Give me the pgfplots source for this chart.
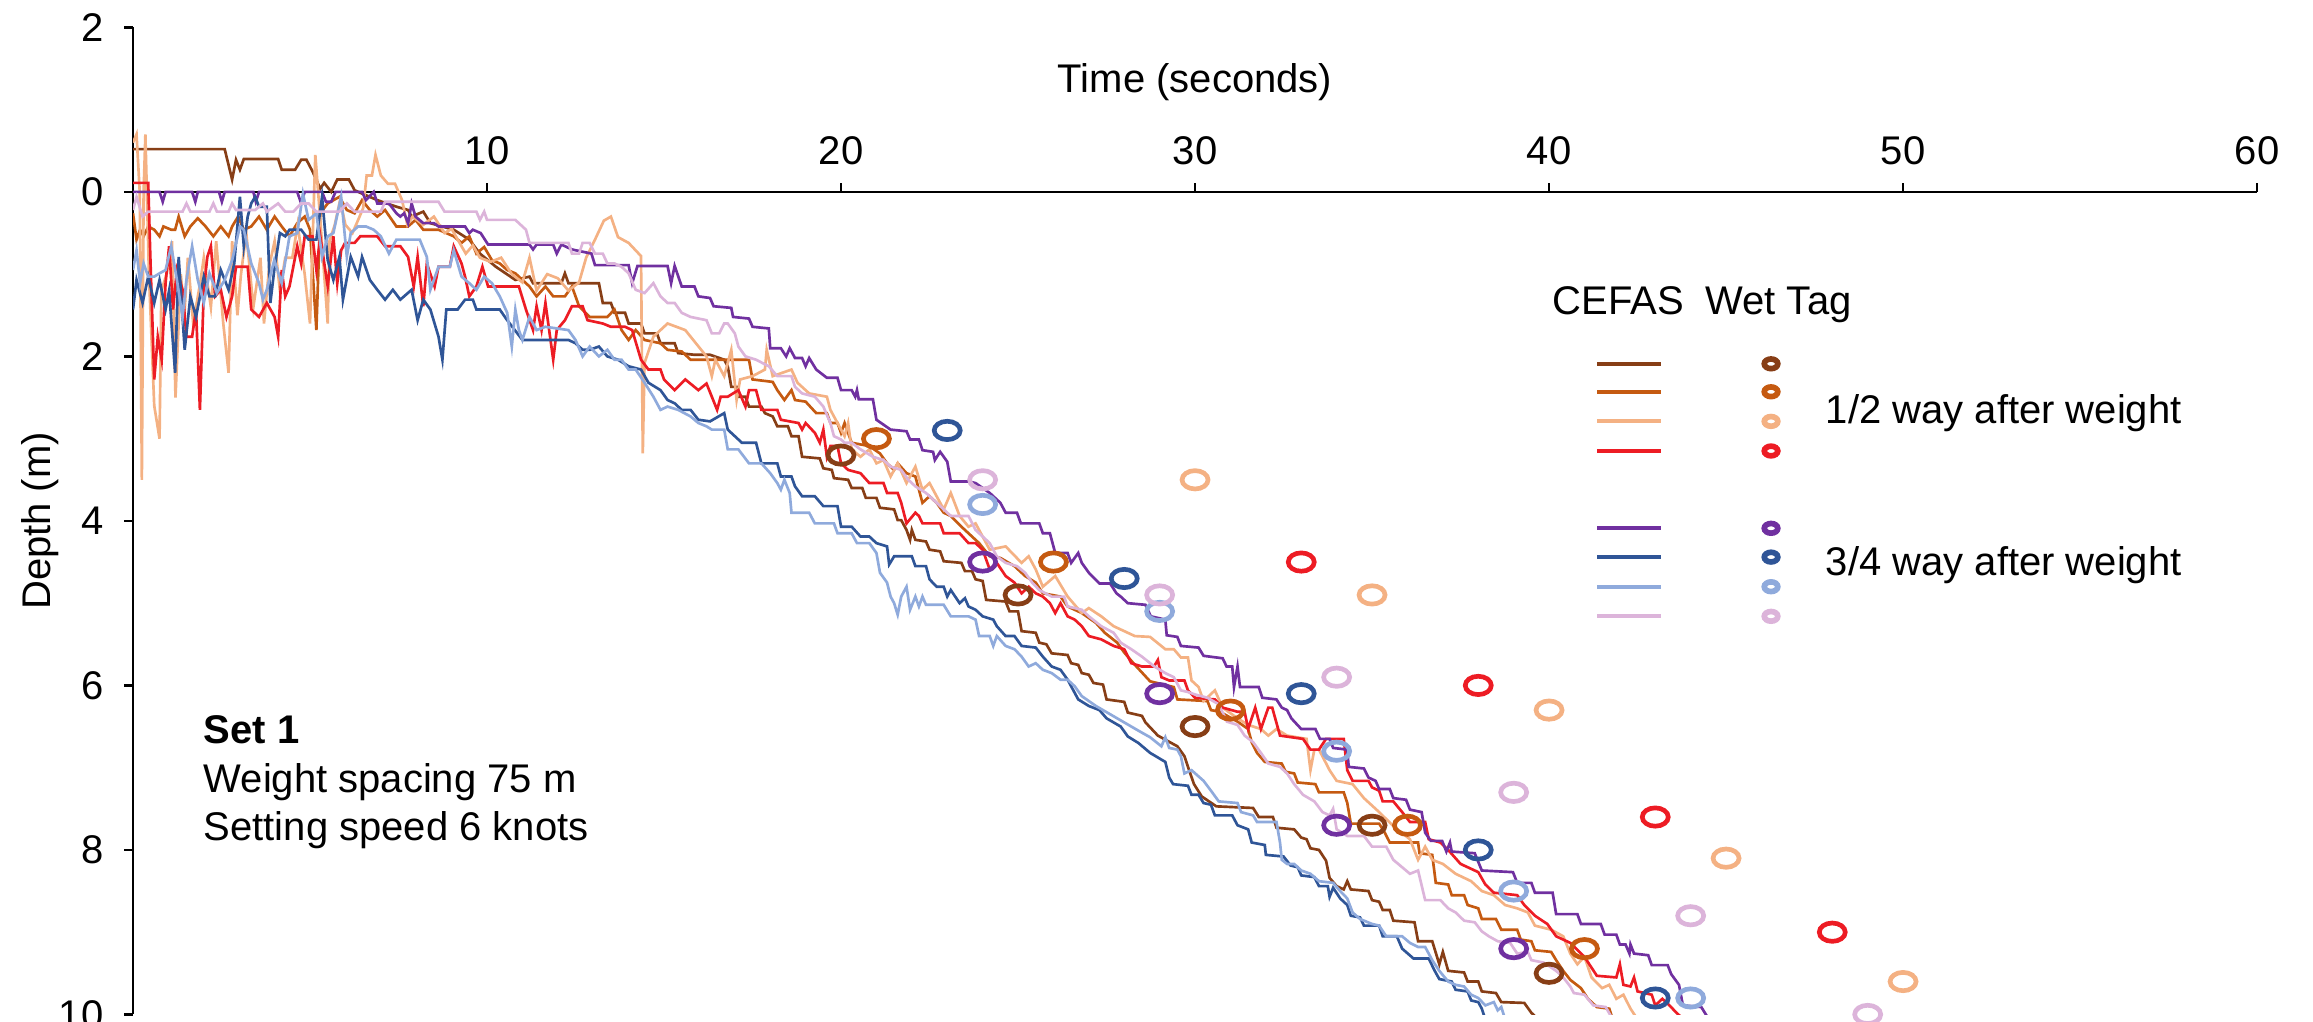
\documentclass[border=0pt]{standalone}
\usepackage{fontspec}
\setmainfont{Liberation Sans}
\usepackage{pgfplots}
\pgfplotsset{compat=1.18}
\definecolor{cA}{RGB}{135,62,22}
\definecolor{cB}{RGB}{197,90,17}
\definecolor{cC}{RGB}{244,177,131}
\definecolor{cD}{RGB}{237,28,36}
\definecolor{cE}{RGB}{112,48,160}
\definecolor{cF}{RGB}{47,85,151}
\definecolor{cG}{RGB}{143,170,220}
\definecolor{cH}{RGB}{220,180,218}
\pgfplotsset{
  wet/.style={only marks, mark=o, mark size=2.75pt, mark options={xscale=1.42, line width=1.4pt, draw=#1, fill=none}, draw=#1},
  legwet/.style={only marks, mark=o, mark size=1.45pt, mark options={xscale=1.4, line width=1.7pt, draw=#1, fill=none}, draw=#1},
  legline/.style={draw=#1, line width=1.25pt, mark=none},
}
\begin{document}
\fontsize{12}{14.4}\selectfont
\begin{tikzpicture}
\begin{axis}[
  scale only axis, width=637.2pt, height=296.1pt,
  xmin=0, xmax=60, ymin=-2, ymax=10, y dir=reverse,
  axis x line=middle, axis y line=left,
  axis line style={-, line width=0.8pt, black},
  hide obscured x ticks=false, hide obscured y ticks=false,
  xtick={10,20,30,40,50,60}, xticklabels={10,20,30,40,50,60},
  ytick={-2,0,2,4,6,8,10}, yticklabels={2,0,2,4,6,8,10},
  major tick length=2.6pt,
  xtick align=outside, ytick align=outside,
  tick style={black, line width=0.8pt},
  xticklabel style={anchor=south, yshift=6.4pt},
  yticklabel style={xshift=-2.1pt},
  clip mode=individual,
  every axis plot/.append style={line width=0.8pt, mark=none},
  /pgf/number format/assume math mode=true,
]
% ---------------- CEFAS series ----------------
\addplot[cA] coordinates {(0,-0.52) (2.59,-0.52) (2.8,-0.15) (2.91,-0.39) (3.02,-0.27) (3.13,-0.40) (4.1,-0.40) (4.2,-0.27) (4.58,-0.27) (4.75,-0.39) (4.9,-0.39) (5.07,-0.25) (5.29,-0.04) (5.4,-0.11) (5.6,0.0) (5.77,-0.15) (6.1,-0.15) (6.26,-0.02) (6.47,0.02) (6.9,0.1) (7.44,0.18) (7.77,0.22) (7.87,0.30) (8.2,0.24) (8.4,0.38) (9.06,0.46) (9.5,0.58) (9.8,0.75) (10.25,0.91) (10.8,1.07) (11.2,1.03) (11.3,1.11) (12.1,1.11) (12.2,0.99) (12.3,1.11) (13.16,1.11) (13.27,1.35) (13.5,1.35) (13.6,1.47) (13.9,1.47) (14.0,1.60) (14.35,1.60) (14.45,1.72) (14.8,1.72) (14.9,1.84) (15.3,1.84) (15.4,1.96) (15.86,1.98) (16.3,1.98) (16.7,2.04) (16.8,2.12) (16.9,2.37) (17.05,2.37) (17.1,2.49) (17.3,2.49) (17.4,2.61) (17.75,2.61) (17.85,2.69) (18.07,2.73) (18.2,2.85) (18.5,2.85) (18.6,2.97) (18.8,2.97) (18.9,3.22) (19.4,3.24) (19.5,3.36) (19.74,3.38) (19.8,3.48) (20.2,3.5) (20.3,3.6) (20.6,3.6) (20.7,3.72) (21.0,3.72) (21.1,3.84) (21.5,3.86) (21.6,3.99) (21.7,3.99) (21.85,4.11) (21.95,4.23) (22.0,4.11) (22.1,4.23) (22.4,4.25) (22.5,4.35) (22.8,4.37) (22.9,4.49) (23.4,4.51) (23.5,4.61) (23.7,4.61) (23.8,4.71) (24.0,4.73) (24.1,4.96) (24.65,4.98) (24.76,5.1) (25.0,5.1) (25.1,5.34) (25.5,5.36) (25.6,5.48) (25.8,5.5) (25.95,5.61) (26.4,5.63) (26.5,5.73) (26.7,5.75) (26.8,5.85) (27.0,5.87) (27.13,5.97) (27.4,5.99) (27.5,6.17) (28.0,6.2) (28.1,6.33) (28.5,6.37) (28.6,6.45) (28.95,6.61) (29.5,6.74) (29.7,6.86) (29.8,6.99) (29.97,7.2) (30.19,7.35) (30.6,7.47) (31.64,7.49) (31.8,7.6) (32.2,7.6) (32.3,7.73) (32.8,7.75) (33.0,7.85) (33.15,7.87) (33.26,7.98) (33.5,8.0) (33.7,8.13) (33.8,8.34) (34.0,8.44) (34.2,8.48) (34.3,8.38) (34.4,8.48) (34.9,8.5) (35.0,8.61) (35.2,8.63) (35.3,8.73) (35.5,8.73) (35.6,8.86) (36.2,8.88) (36.3,9.11) (36.7,9.11) (36.9,9.39) (37.0,9.24) (37.15,9.47) (37.6,9.49) (37.7,9.6) (38.0,9.6) (38.1,9.72) (38.5,9.74) (38.65,9.85) (39.3,9.86) (39.5,9.98) (39.7,10.06)};
\addplot[cB] coordinates {(0,0.26) (0.1,0.58) (0.2,0.46) (0.3,0.54) (0.43,0.42) (0.6,0.46) (0.75,0.54) (0.86,0.42) (1.08,0.46) (1.19,0.46) (1.29,0.3) (1.46,0.54) (1.62,0.42) (1.83,0.32) (2.05,0.42) (2.27,0.54) (2.48,0.42) (2.7,0.54) (2.8,0.42) (2.97,0.3) (3.13,0.46) (3.34,0.42) (3.56,0.3) (3.78,0.46) (4.0,0.3) (4.2,0.42) (4.42,0.54) (4.64,0.38) (4.85,0.3) (5.0,0.46) (5.18,1.68) (5.29,0.26) (5.5,0.14) (5.83,0.06) (6.04,0.22) (6.26,0.26) (6.47,0.1) (6.69,0.22) (6.9,0.3) (7.12,0.22) (7.44,0.42) (7.77,0.42) (7.98,0.34) (8.2,0.46) (8.63,0.46) (9.06,0.54) (9.28,0.62) (9.5,0.54) (9.7,0.75) (9.92,0.67) (10.14,0.83) (10.36,0.87) (10.57,0.95) (10.8,0.99) (11.0,1.07) (11.2,1.15) (11.4,1.27) (11.65,1.15) (11.87,1.27) (12.2,1.27) (12.4,1.15) (12.6,1.39) (12.9,1.52) (13.4,1.52) (13.6,1.43) (13.8,1.68) (14.0,1.8) (14.2,1.68) (14.45,1.8) (14.9,1.84) (15.1,1.92) (15.5,1.94) (15.75,2.04) (17.4,2.04) (17.5,2.28) (18.07,2.31) (18.2,2.41) (18.4,2.53) (18.6,2.41) (18.7,2.53) (19.0,2.55) (19.3,2.69) (19.6,2.69) (19.7,2.81) (19.9,2.81) (20.0,2.93) (20.1,2.81) (20.3,3.05) (20.8,3.09) (21.1,3.18) (21.3,3.3) (21.5,3.38) (21.6,3.3) (21.85,3.42) (22.1,3.46) (22.3,3.78) (22.5,3.7) (22.7,3.78) (22.9,3.9) (23.1,3.94) (23.4,4.07) (23.7,4.19) (23.9,4.27) (24.2,4.43) (24.5,4.45) (24.9,4.55) (25.2,4.67) (25.5,4.75) (25.7,4.88) (26.2,4.92) (26.4,5.04) (26.8,5.12) (27.2,5.24) (27.45,5.36) (27.8,5.48) (28.0,5.6) (28.3,5.75) (28.73,5.95) (29.4,6.02) (29.5,6.17) (30.35,6.19) (30.45,6.3) (30.7,6.32) (31.2,6.44) (31.5,6.53) (31.6,6.69) (31.75,6.82) (31.97,6.93) (32.45,6.95) (32.56,7.05) (32.8,7.07) (32.9,7.18) (33.4,7.2) (33.5,7.3) (34.2,7.3) (34.3,7.43) (34.4,7.68) (35.2,7.68) (35.36,7.79) (35.5,7.91) (36.3,7.91) (36.34,8.04) (36.7,8.06) (36.8,8.4) (37.15,8.42) (37.25,8.55) (37.6,8.55) (37.7,8.67) (38.0,8.71) (38.1,8.84) (38.5,8.84) (38.65,8.97) (39.1,8.97) (39.2,9.09) (39.5,9.11) (39.6,9.22) (40.06,9.24) (40.2,9.34) (40.4,9.47) (40.6,9.58) (40.9,9.68) (41.1,9.81) (41.35,9.91) (41.7,9.93) (41.8,10.06)};
\addplot[cC] coordinates {(0,-0.6) (0.1,-0.7) (0.19,0.0) (0.25,3.5) (0.3,0.0) (0.35,-0.7) (0.45,1.0) (0.6,2.6) (0.75,3.0) (0.8,1.2) (0.95,1.0) (1.1,0.6) (1.2,2.5) (1.35,1.0) (1.45,1.5) (1.55,0.8) (1.7,1.6) (1.9,1.1) (2.0,0.8) (2.2,1.4) (2.35,0.6) (2.55,1.6) (2.7,2.2) (2.8,0.6) (2.95,1.5) (3.05,1.0) (3.2,0.5) (3.4,1.4) (3.6,0.8) (3.7,1.6) (3.85,0.9) (4.0,0.6) (4.15,1.2) (4.3,0.8) (4.5,0.8) (4.65,0.4) (4.85,1.0) (5.0,1.6) (5.15,-0.45) (5.3,0.4) (5.5,1.6) (5.55,0.6) (5.7,0.4) (5.85,0.1) (6.0,0.4) (6.2,0.5) (6.5,0.2) (6.6,-0.2) (6.75,-0.2) (6.85,-0.45) (7.0,-0.2) (7.2,-0.1) (7.4,-0.1) (7.6,0.1) (7.75,0.4) (7.9,0.3) (8.2,0.4) (8.5,0.3) (8.8,0.5) (9.0,0.45) (9.2,0.6) (9.4,0.75) (9.6,0.65) (9.8,0.8) (10.1,0.85) (10.4,0.8) (10.7,1.0) (11.0,1.1) (11.2,0.8) (11.4,1.2) (11.7,1.0) (12.0,1.05) (12.3,1.2) (12.6,1.1) (12.8,0.8) (13.05,0.58) (13.3,0.35) (13.5,0.3) (13.7,0.55) (14.0,0.62) (14.35,0.78) (14.4,3.18) (14.45,2.08) (14.7,1.76) (15.1,1.6) (15.6,1.68) (16.2,2.0) (16.35,2.24) (16.45,2.04) (16.7,2.24) (16.9,1.92) (17.05,2.53) (17.15,2.28) (17.5,2.24) (17.85,2.16) (17.9,1.92) (18.07,2.24) (18.6,2.16) (18.77,2.32) (19.1,2.45) (19.6,2.49) (19.7,2.65) (19.9,2.81) (20.1,2.97) (20.2,2.81) (20.3,3.13) (20.55,3.22) (20.8,3.13) (21.0,3.3) (21.2,3.26) (21.4,3.46) (21.6,3.3) (21.85,3.54) (22.1,3.34) (22.3,3.62) (22.5,3.54) (22.7,3.7) (22.9,3.86) (23.1,3.66) (23.35,3.94) (23.6,4.07) (23.8,4.03) (24.0,4.19) (24.2,4.35) (24.65,4.31) (25.1,4.51) (25.3,4.43) (25.5,4.59) (25.7,4.8) (26.05,4.67) (26.4,4.92) (26.8,5.12) (27.0,5.06) (27.35,5.16) (27.7,5.28) (27.9,5.32) (28.3,5.4) (28.73,5.41) (29.16,5.56) (29.4,5.56) (29.6,5.66) (29.8,5.66) (29.9,5.94) (30.1,6.02) (30.24,6.19) (30.56,6.06) (30.78,6.27) (31.2,6.4) (31.5,6.48) (31.86,6.53) (32.07,6.61) (32.3,6.53) (32.6,6.61) (33.15,6.65) (33.26,7.03) (33.37,6.78) (33.5,6.78) (33.8,7.03) (34.0,7.16) (34.45,7.2) (34.77,7.37) (35.2,7.54) (35.6,7.71) (36.07,7.87) (36.3,8.12) (36.5,7.96) (36.7,8.12) (37.0,8.17) (37.36,8.29) (37.8,8.38) (38.1,8.5) (38.44,8.55) (38.76,8.67) (39.1,8.71) (39.4,8.76) (39.6,8.92) (40.06,8.97) (40.4,9.05) (40.6,9.26) (40.8,9.39) (41.0,9.3) (41.2,9.55) (41.5,9.68) (41.7,9.64) (41.9,9.81) (42.1,9.76) (42.3,9.93) (42.5,10.06)};
\addplot[cD] coordinates {(0,-0.11) (0.43,-0.11) (0.49,0.79) (0.6,2.28) (0.7,1.76) (0.81,2.04) (0.92,1.11) (1.02,0.66) (1.13,1.43) (1.24,0.95) (1.4,1.19) (1.51,1.76) (1.67,1.76) (1.78,1.43) (1.89,2.65) (2.0,1.19) (2.1,0.79) (2.2,0.66) (2.32,1.27) (2.48,1.19) (2.64,1.52) (2.8,1.27) (2.91,0.91) (3.24,0.91) (3.34,1.43) (3.56,1.52) (3.78,1.35) (4.0,1.52) (4.1,1.76) (4.2,0.95) (4.3,1.27) (4.42,1.15) (4.64,0.66) (4.75,0.87) (4.85,0.54) (5.07,0.54) (5.18,0.95) (5.29,0.54) (5.5,1.15) (5.66,0.54) (5.77,1.11) (5.88,0.71) (5.99,0.62) (6.26,0.62) (6.42,0.54) (6.9,0.54) (7.12,0.66) (7.55,0.66) (7.77,0.79) (7.93,1.15) (8.04,0.79) (8.2,1.39) (8.3,0.87) (8.52,1.15) (8.63,0.91) (8.95,0.91) (9.06,0.66) (9.28,0.87) (9.38,1.03) (9.5,1.27) (9.7,1.15) (9.87,0.91) (10.03,1.15) (10.9,1.15) (11.1,1.43) (11.3,1.68) (11.4,1.39) (11.54,1.68) (11.65,1.35) (11.87,2.04) (11.97,1.68) (12.2,1.56) (12.4,1.39) (12.7,1.39) (12.84,1.56) (13.27,1.6) (13.5,1.64) (13.9,1.64) (14.1,1.68) (14.35,2.04) (14.56,2.16) (14.9,2.16) (15.0,2.28) (15.3,2.41) (15.6,2.28) (15.97,2.41) (16.2,2.33) (16.35,2.49) (16.5,2.65) (16.6,2.49) (16.8,2.49) (17.1,2.41) (17.3,2.61) (17.4,2.41) (17.6,2.41) (17.75,2.65) (18.2,2.65) (18.3,2.77) (18.8,2.81) (18.9,2.89) (19.0,2.81) (19.26,2.93) (19.4,3.05) (19.5,2.89) (19.6,3.22) (19.7,3.09) (19.9,3.09) (20.0,3.3) (20.2,3.38) (20.55,3.42) (20.8,3.54) (21.2,3.54) (21.3,3.66) (21.6,3.66) (21.7,3.78) (21.85,4.03) (22.1,3.9) (22.2,3.94) (22.3,4.03) (22.8,4.03) (22.9,4.15) (23.35,4.15) (23.6,4.27) (23.8,4.27) (24.0,4.35) (24.2,4.59) (24.4,4.51) (24.65,4.67) (24.9,4.75) (25.1,4.88) (25.3,4.8) (25.5,4.88) (25.7,4.92) (25.9,5.0) (26.05,5.12) (26.2,5.0) (26.4,5.16) (26.6,5.2) (26.8,5.28) (27.0,5.4) (27.35,5.44) (27.7,5.52) (28.0,5.56) (28.2,5.73) (28.5,5.77) (28.84,5.77) (28.95,5.69) (29.05,5.9) (29.27,5.94) (29.7,5.94) (29.8,6.06) (30.0,6.15) (30.56,6.17) (30.78,6.27) (31.2,6.32) (31.4,6.32) (31.5,6.53) (31.7,6.27) (31.86,6.53) (32.07,6.27) (32.18,6.27) (32.4,6.61) (33.05,6.65) (33.26,6.78) (33.5,6.78) (33.7,6.65) (34.2,6.65) (34.3,7.03) (34.45,7.16) (34.9,7.16) (35.0,7.24) (35.2,7.28) (35.3,7.41) (35.6,7.41) (35.85,7.54) (36.07,7.66) (36.5,7.66) (36.6,7.87) (36.93,7.91) (37.15,8.0) (37.5,8.17) (38.0,8.27) (38.2,8.42) (38.44,8.52) (39.1,8.55) (39.3,8.67) (39.6,8.8) (39.95,8.9) (40.2,9.05) (40.4,9.09) (40.6,9.13) (41.0,9.3) (41.35,9.53) (41.9,9.55) (42.0,9.39) (42.1,9.64) (42.3,9.66) (42.4,9.55) (42.5,9.72) (42.9,9.76) (43.0,9.89) (43.2,9.81) (43.4,9.89) (43.6,9.98) (43.8,10.06)};
\addplot[cE] coordinates {(0,0) (0.75,0) (0.84,0.12) (0.92,0) (1.67,0) (1.76,0.12) (1.83,0) (2.43,0) (2.51,0.12) (2.59,0) (3.4,0) (3.47,0.12) (3.56,0) (4.64,0) (4.75,0.14) (4.85,0) (5.34,0) (5.45,0.12) (5.6,0.12) (5.72,0) (6.47,0) (6.58,0.1) (6.8,0) (6.9,0.14) (7.23,0.14) (7.44,0.26) (7.55,0.3) (7.66,0.26) (7.77,0.38) (7.87,0.14) (7.98,0.3) (8.2,0.38) (8.5,0.38) (8.63,0.42) (9.38,0.42) (9.5,0.5) (9.6,0.46) (9.82,0.5) (10.03,0.64) (11.2,0.64) (11.3,0.7) (11.4,0.64) (11.87,0.64) (11.97,0.75) (12.1,0.64) (12.4,0.7) (12.95,0.75) (13.05,0.89) (14.0,0.89) (14.1,1.11) (14.25,0.9) (15.1,0.9) (15.2,1.11) (15.3,0.9) (15.5,1.15) (15.86,1.15) (15.97,1.27) (16.3,1.29) (16.4,1.39) (16.9,1.41) (16.95,1.52) (17.4,1.54) (17.5,1.64) (17.96,1.66) (18.0,1.9) (18.3,1.9) (18.45,2.0) (18.55,1.9) (18.7,2.02) (18.9,2.02) (19.0,2.12) (19.1,2.02) (19.3,2.16) (19.6,2.26) (19.9,2.26) (20.0,2.41) (20.3,2.41) (20.4,2.49) (20.45,2.41) (20.5,2.52) (20.9,2.52) (21.0,2.77) (21.4,2.89) (21.85,2.91) (21.95,3.01) (22.2,3.01) (22.3,3.14) (22.6,3.16) (22.65,3.26) (22.8,3.16) (23.0,3.28) (23.1,3.52) (23.6,3.52) (23.8,3.54) (24.2,3.66) (24.5,3.78) (24.65,3.9) (24.97,3.9) (25.08,4.03) (25.6,4.03) (25.7,4.15) (25.9,4.15) (26.05,4.39) (26.4,4.39) (26.5,4.51) (26.7,4.39) (26.8,4.51) (27.0,4.63) (27.3,4.76) (27.6,4.76) (27.78,4.88) (27.9,4.92) (28.1,5.0) (28.6,5.02) (28.75,5.16) (29.16,5.2) (29.2,5.39) (29.5,5.41) (29.6,5.52) (30.1,5.54) (30.24,5.64) (30.78,5.67) (30.89,5.77) (31.05,5.77) (31.1,6.02) (31.2,5.77) (31.27,6.02) (31.8,6.02) (31.9,6.15) (32.3,6.17) (32.45,6.27) (32.6,6.3) (32.72,6.4) (33.0,6.53) (33.4,6.53) (33.53,6.65) (33.8,6.65) (33.9,6.76) (34.3,6.78) (34.34,6.99) (34.77,7.01) (34.9,7.12) (35.1,7.16) (35.2,7.26) (35.5,7.26) (35.6,7.37) (35.96,7.39) (36.07,7.51) (36.4,7.54) (36.5,7.79) (36.66,7.89) (36.98,7.89) (37.1,8.02) (37.2,7.91) (37.25,8.02) (37.9,8.04) (38.1,8.25) (38.98,8.27) (39.1,8.4) (39.5,8.4) (39.6,8.52) (40.1,8.52) (40.2,8.78) (40.8,8.78) (40.9,8.9) (41.46,8.9) (41.57,9.03) (41.9,9.03) (42.0,9.15) (42.16,9.15) (42.27,9.26) (42.3,9.15) (42.4,9.26) (42.8,9.28) (42.9,9.4) (43.35,9.4) (43.45,9.51) (43.67,9.64) (43.78,9.89) (44.3,9.91) (44.5,10.05)};
\addplot[cF] coordinates {(0,1.43) (0.1,1.07) (0.27,1.35) (0.43,1.03) (0.6,1.35) (0.75,1.07) (0.92,1.43) (1.02,1.2) (1.19,2.2) (1.29,0.79) (1.46,1.92) (1.62,1.27) (1.78,1.52) (2.0,1.03) (2.16,1.27) (2.32,1.27) (2.48,0.95) (2.7,1.19) (2.86,0.87) (3.02,0.06) (3.13,0.66) (3.24,0.3) (3.34,0.14) (3.45,0.06) (3.56,0.18) (3.78,0.18) (3.88,1.35) (3.99,0.95) (4.15,0.5) (4.3,0.54) (4.42,0.46) (4.75,0.46) (4.96,0.58) (5.18,0.58) (5.34,0.06) (5.5,0.83) (5.66,1.07) (5.83,0.79) (5.93,1.31) (6.15,0.79) (6.36,1.03) (6.47,0.79) (6.69,1.07) (6.9,1.19) (7.12,1.31) (7.34,1.19) (7.55,1.31) (7.87,1.19) (8.04,1.56) (8.2,1.31) (8.4,1.43) (8.63,1.76) (8.74,2.04) (8.85,1.43) (9.17,1.43) (9.38,1.31) (9.6,1.31) (9.7,1.43) (10.36,1.43) (10.57,1.56) (11.0,1.8) (12.3,1.8) (12.5,1.84) (12.7,1.92) (12.9,1.92) (13.16,1.88) (13.4,2.0) (13.7,2.04) (14.0,2.12) (14.35,2.16) (14.56,2.32) (14.9,2.41) (15.1,2.53) (15.3,2.57) (15.5,2.65) (15.75,2.65) (15.97,2.77) (16.3,2.79) (16.7,2.69) (16.8,2.89) (17.2,3.05) (17.6,3.05) (17.75,3.3) (18.2,3.3) (18.3,3.46) (18.6,3.46) (18.7,3.58) (18.9,3.7) (19.26,3.7) (19.5,3.82) (19.9,3.82) (20.0,4.07) (20.3,4.07) (20.55,4.19) (20.8,4.19) (21.0,4.27) (21.3,4.31) (21.36,4.53) (21.5,4.43) (22.0,4.43) (22.1,4.55) (22.4,4.55) (22.5,4.71) (22.7,4.8) (22.9,4.8) (23.0,4.92) (23.1,4.84) (23.35,5.0) (23.5,4.94) (23.6,5.04) (23.8,5.08) (24.0,5.16) (24.3,5.2) (24.4,5.28) (24.65,5.4) (24.9,5.4) (25.1,5.52) (25.5,5.54) (25.7,5.65) (25.95,5.77) (26.2,5.81) (26.4,5.93) (26.6,6.09) (26.7,6.17) (27.0,6.25) (27.3,6.3) (27.5,6.4) (27.9,6.5) (28.1,6.62) (28.4,6.7) (28.73,6.82) (29.16,6.93) (29.27,7.12) (29.38,7.2) (29.8,7.22) (29.9,7.33) (30.1,7.33) (30.24,7.43) (30.45,7.45) (30.56,7.58) (31.05,7.58) (31.2,7.7) (31.5,7.75) (31.6,7.91) (31.97,7.94) (32.0,8.06) (32.5,8.08) (32.7,8.19) (32.9,8.21) (33.0,8.31) (33.37,8.33) (33.5,8.44) (33.75,8.44) (33.8,8.57) (33.9,8.46) (34.1,8.59) (34.3,8.67) (34.4,8.8) (34.66,8.82) (34.77,8.92) (35.2,8.92) (35.3,9.05) (35.7,9.05) (35.85,9.2) (36.17,9.32) (36.6,9.32) (36.77,9.47) (36.9,9.57) (37.25,9.6) (37.36,9.7) (37.7,9.72) (37.8,9.83) (38.0,9.85) (38.1,9.93) (38.2,10.06)};
\addplot[cG] coordinates {(0,0.95) (0.1,0.71) (0.2,1.11) (0.3,0.87) (0.43,1.03) (0.6,1.03) (0.75,0.99) (0.92,0.95) (1.08,0.66) (1.24,1.07) (1.4,1.52) (1.51,1.07) (1.67,0.66) (1.83,1.07) (2.0,1.35) (2.16,0.99) (2.37,1.23) (2.59,1.07) (2.8,0.83) (3.02,0.42) (3.13,0.46) (3.34,0.87) (3.56,1.11) (3.67,1.31) (3.78,1.19) (3.99,0.83) (4.2,1.11) (4.42,0.54) (4.64,0.5) (4.8,0.02) (4.96,0.34) (5.18,0.26) (5.34,0.79) (5.5,0.54) (5.66,0.5) (5.88,0.06) (6.04,0.79) (6.15,0.5) (6.36,0.42) (6.58,0.42) (6.8,0.46) (7.0,0.54) (7.23,0.75) (7.44,0.58) (8.1,0.58) (8.3,0.79) (8.4,1.19) (8.63,0.91) (8.95,0.91) (9.06,0.71) (9.28,1.03) (9.5,1.11) (9.7,1.19) (9.92,1.03) (10.14,1.11) (10.36,1.27) (10.57,1.47) (10.7,1.88) (10.8,1.43) (10.9,1.68) (11.0,1.8) (11.2,1.52) (11.4,1.68) (11.65,1.64) (12.3,1.68) (12.5,1.8) (12.7,2.0) (12.9,1.88) (13.16,2.0) (13.4,1.92) (13.6,2.04) (13.8,2.04) (14.0,2.16) (14.2,2.16) (14.45,2.32) (14.7,2.49) (14.9,2.65) (15.1,2.61) (15.4,2.65) (15.75,2.73) (15.97,2.81) (16.2,2.85) (16.35,2.89) (16.7,2.89) (16.8,3.13) (17.1,3.13) (17.4,3.3) (17.75,3.3) (18.0,3.42) (18.2,3.54) (18.3,3.62) (18.4,3.5) (18.55,3.66) (18.6,3.9) (19.1,3.9) (19.26,4.03) (19.8,4.03) (19.9,4.15) (20.3,4.15) (20.45,4.27) (20.8,4.27) (21.0,4.39) (21.1,4.63) (21.3,4.75) (21.4,4.92) (21.5,5.0) (21.6,5.14) (21.7,4.92) (21.85,4.8) (21.95,5.08) (22.1,4.92) (22.2,5.04) (22.3,4.92) (22.4,5.02) (22.9,5.02) (23.1,5.16) (23.6,5.16) (23.8,5.2) (23.9,5.4) (24.2,5.4) (24.3,5.52) (24.4,5.4) (24.65,5.52) (24.9,5.56) (25.1,5.65) (25.3,5.77) (25.5,5.73) (25.7,5.81) (25.95,5.85) (26.2,5.93) (26.4,5.93) (26.6,6.01) (26.8,6.13) (27.2,6.25) (27.6,6.35) (28.0,6.45) (28.4,6.55) (28.73,6.63) (29.05,6.74) (29.16,6.63) (29.27,6.76) (29.5,6.78) (29.6,6.86) (29.7,7.07) (29.9,7.03) (30.24,7.16) (30.45,7.28) (30.67,7.41) (31.2,7.43) (31.3,7.54) (31.64,7.58) (31.75,7.66) (32.3,7.66) (32.4,7.91) (32.45,8.12) (32.6,8.17) (32.8,8.17) (33.0,8.25) (33.26,8.29) (33.5,8.38) (33.9,8.4) (34.1,8.5) (34.3,8.59) (34.45,8.76) (34.66,8.84) (35.0,8.9) (35.2,8.92) (35.4,9.05) (35.85,9.05) (36.07,9.13) (36.3,9.18) (36.5,9.18) (36.6,9.26) (36.7,9.34) (36.9,9.47) (37.15,9.6) (37.36,9.64) (37.6,9.66) (37.8,9.76) (38.0,9.8) (38.2,9.89) (38.44,9.85) (38.55,9.95) (38.65,9.91) (38.76,10.06)};
\addplot[cH] coordinates {(0,0.22) (0.1,0.06) (0.27,0.3) (0.43,0.24) (1.4,0.24) (1.51,0.14) (1.62,0.24) (2.16,0.24) (2.27,0.14) (2.37,0.24) (2.7,0.24) (2.8,0.14) (2.91,0.22) (3.45,0.22) (3.67,0.14) (3.78,0.24) (4.1,0.14) (4.3,0.24) (4.53,0.24) (4.75,0.14) (4.96,0.14) (5.18,0.24) (5.83,0.24) (6.04,0.14) (6.26,0.24) (7.0,0.24) (7.12,0.12) (8.63,0.12) (8.8,0.24) (9.7,0.24) (9.8,0.34) (9.92,0.24) (10.0,0.34) (10.8,0.34) (11.1,0.46) (11.2,0.62) (12.3,0.62) (12.4,0.75) (12.6,0.75) (12.7,0.62) (12.9,0.62) (13.05,0.75) (13.27,0.75) (13.4,0.87) (13.6,0.87) (13.8,0.91) (14.0,0.99) (14.2,1.19) (14.45,1.23) (14.7,1.11) (14.9,1.27) (15.1,1.35) (15.3,1.35) (15.5,1.47) (15.75,1.52) (16.2,1.56) (16.35,1.72) (16.56,1.72) (16.7,1.6) (16.8,1.6) (17.0,1.72) (17.1,1.88) (17.3,2.0) (17.6,2.04) (17.96,2.12) (18.2,2.24) (18.6,2.24) (18.7,2.37) (18.9,2.45) (19.26,2.49) (19.5,2.61) (19.7,2.81) (19.8,2.97) (20.0,3.01) (20.1,3.05) (20.3,3.05) (20.55,3.13) (20.9,3.22) (21.2,3.26) (21.4,3.34) (21.7,3.38) (21.9,3.5) (22.1,3.58) (22.4,3.66) (22.7,3.78) (22.9,3.86) (23.1,3.94) (23.6,3.94) (23.8,4.11) (24.0,4.19) (24.2,4.27) (24.4,4.43) (24.65,4.51) (24.97,4.55) (25.2,4.63) (25.4,4.75) (25.6,4.84) (25.95,4.92) (26.3,4.92) (26.4,5.04) (26.8,5.08) (27.0,5.16) (27.35,5.28) (27.7,5.36) (27.9,5.48) (28.2,5.56) (28.5,5.65) (28.85,5.77) (29.16,5.85) (29.4,5.9) (29.6,6.06) (29.8,6.08) (30.0,6.11) (30.35,6.15) (30.67,6.23) (30.9,6.44) (31.2,6.48) (31.4,6.61) (31.64,6.69) (31.86,6.82) (32.07,6.95) (32.4,6.99) (32.6,7.07) (32.8,7.2) (33.05,7.33) (33.37,7.41) (33.6,7.54) (33.8,7.58) (33.9,7.5) (34.0,7.75) (34.3,7.83) (34.77,7.83) (35.0,7.96) (35.4,7.96) (35.6,8.12) (36.07,8.29) (36.3,8.25) (36.5,8.61) (36.93,8.61) (37.15,8.71) (37.36,8.76) (37.6,8.86) (37.9,8.88) (38.1,8.99) (38.3,9.05) (38.55,9.11) (38.9,9.13) (39.1,9.26) (39.4,9.24) (39.5,9.34) (39.85,9.37) (40.2,9.47) (40.4,9.55) (40.6,9.66) (40.7,9.74) (41.0,9.76) (41.25,9.89) (41.6,9.91) (41.8,10.06)};
% ---------------- Wet Tag series ----------------
\addplot[wet=cA] coordinates {(20,3.2) (25,4.9) (30,6.5) (35,7.7) (40,9.5)};
\addplot[wet=cB] coordinates {(21,3.0) (26,4.5) (31,6.3) (36,7.7) (41,9.2)};
\addplot[wet=cC] coordinates {(30,3.5) (35,4.9) (40,6.3) (45,8.1) (50,9.6)};
\addplot[wet=cD] coordinates {(33,4.5) (38,6.0) (43,7.6) (48,9.0)};
\addplot[wet=cE] coordinates {(24,4.5) (29,6.1) (34,7.7) (39,9.2)};
\addplot[wet=cF] coordinates {(23,2.9) (28,4.7) (33,6.1) (38,8.0) (43,9.8)};
\addplot[wet=cG] coordinates {(24,3.8) (29,5.1) (34,6.8) (39,8.5) (44,9.8)};
\addplot[wet=cH] coordinates {(24,3.5) (29,4.9) (34,5.9) (39,7.3) (44,8.8) (49,10.0)};
% ---------------- legend ----------------
\addplot[legline=cA] coordinates {(41.36,2.09) (43.17,2.09)};
\addplot[legline=cB] coordinates {(41.36,2.43) (43.17,2.43)};
\addplot[legline=cC] coordinates {(41.36,2.79) (43.17,2.79)};
\addplot[legline=cD] coordinates {(41.36,3.15) (43.17,3.15)};
\addplot[legline=cE] coordinates {(41.36,4.09) (43.17,4.09)};
\addplot[legline=cF] coordinates {(41.36,4.44) (43.17,4.44)};
\addplot[legline=cG] coordinates {(41.36,4.80) (43.17,4.80)};
\addplot[legline=cH] coordinates {(41.36,5.16) (43.17,5.16)};
\addplot[legwet=cA] coordinates {(46.27,2.09)};
\addplot[legwet=cB] coordinates {(46.27,2.43)};
\addplot[legwet=cC] coordinates {(46.27,2.79)};
\addplot[legwet=cD] coordinates {(46.27,3.15)};
\addplot[legwet=cE] coordinates {(46.27,4.09)};
\addplot[legwet=cF] coordinates {(46.27,4.44)};
\addplot[legwet=cG] coordinates {(46.27,4.80)};
\addplot[legwet=cH] coordinates {(46.27,5.16)};
\node[anchor=base west, inner sep=0pt] at (axis cs:40.08,1.485) {CEFAS};
\node[anchor=base west, inner sep=0pt] at (axis cs:44.4,1.485) {Wet Tag};
\node[anchor=base west, inner sep=0pt] at (axis cs:47.8,2.81) {1/2 way after weight};
\node[anchor=base west, inner sep=0pt] at (axis cs:47.8,4.66) {3/4 way after weight};
% ---------------- texts ----------------
\node[anchor=base, inner sep=0pt] at (axis cs:30,-1.21) {Time (seconds)};
\node[rotate=90, inner sep=0pt] at (axis cs:-2.63,4) {Depth (m)};
\node[anchor=base west, inner sep=0pt] at (axis cs:1.98,6.7) {\textbf{Set 1}};
\node[anchor=base west, inner sep=0pt] at (axis cs:1.98,7.3) {Weight spacing 75 m};
\node[anchor=base west, inner sep=0pt] at (axis cs:1.98,7.88) {Setting speed 6 knots};
\coordinate (bbA) at (axis cs:-3.757,-2.333);
\coordinate (bbB) at (axis cs:61.58,10.085);
\end{axis}
\pgfresetboundingbox
\useasboundingbox (bbA) rectangle (bbB);
\end{tikzpicture}
\end{document}
